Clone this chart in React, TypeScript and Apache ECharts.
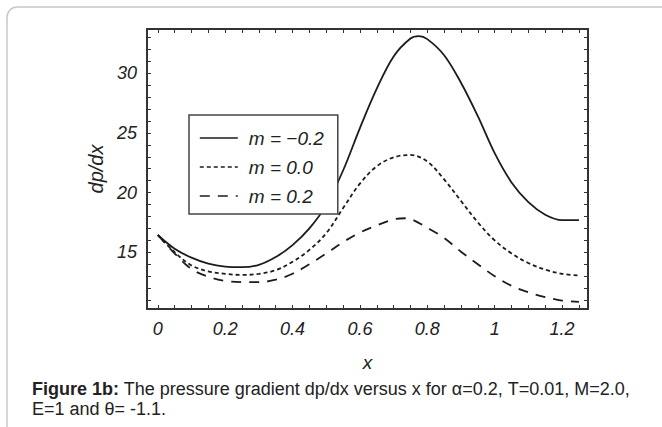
import React, { useEffect, useRef } from "react";
import * as echarts from "echarts";

const xSolid = [0, 0.05, 0.1, 0.15, 0.2, 0.25, 0.3, 0.35, 0.4, 0.45, 0.5, 0.55, 0.6, 0.65, 0.7, 0.75, 0.775, 0.8, 0.85, 0.9, 0.95, 1.0, 1.05, 1.1, 1.15, 1.2, 1.25];
const ySolid = [16.45, 15.3, 14.55, 14.05, 13.8, 13.75, 13.95, 14.6, 15.6, 17.0, 18.95, 21.85, 25.4, 28.7, 31.4, 32.9, 33.1, 32.85, 31.5, 29.2, 26.4, 23.3, 20.85, 19.2, 18.15, 17.7, 17.7];

const xDotted = [0, 0.05, 0.1, 0.15, 0.2, 0.25, 0.3, 0.35, 0.4, 0.45, 0.5, 0.55, 0.6, 0.65, 0.7, 0.75, 0.8, 0.85, 0.9, 0.95, 1.0, 1.05, 1.1, 1.15, 1.2, 1.25];
const yDotted = [16.45, 15.0, 13.9, 13.4, 13.2, 13.1, 13.2, 13.5, 14.2, 15.2, 16.6, 18.7, 20.75, 22.2, 22.95, 23.15, 22.6, 21.1, 19.3, 17.5, 16.0, 14.9, 14.1, 13.55, 13.2, 13.05];

const xDashed = [0, 0.05, 0.1, 0.15, 0.2, 0.25, 0.3, 0.35, 0.4, 0.45, 0.5, 0.55, 0.6, 0.65, 0.7, 0.735, 0.75, 0.8, 0.85, 0.9, 0.95, 1.0, 1.05, 1.1, 1.15, 1.2, 1.25];
const yDashed = [16.45, 14.9, 13.6, 12.95, 12.6, 12.5, 12.5, 12.7, 13.2, 14.0, 14.9, 15.85, 16.65, 17.25, 17.75, 17.85, 17.8, 17.05, 16.2, 15.05, 14.0, 13.0, 12.2, 11.65, 11.25, 10.95, 10.85];

const seriesNames = ["m = \u22120.2", "m = 0.0", "m = 0.2"];

const xLabelValues = [0, 0.2, 0.4, 0.6, 0.8, 1, 1.2];
const xTickValues = [0, 0.05, 0.1, 0.15, 0.2, 0.25, 0.3, 0.35, 0.4, 0.45, 0.5, 0.55, 0.6, 0.65, 0.7, 0.75, 0.8, 0.85, 0.9, 0.95, 1, 1.05, 1.1, 1.15, 1.2, 1.25];
const yLabelValues = [15, 20, 25, 30];
const yTickValues = [11, 12, 13, 14, 15, 16, 17, 18, 19, 20, 21, 22, 23, 24, 25, 26, 27, 28, 29, 30, 31, 32, 33];

const xMin = -0.032;
const xMax = 1.277;
const yMin = 10.25;
const yMax = 33.7;

const captionText =
  "{b|Figure 1b:} The pressure gradient dp/dx versus x for \u03b1=0.2, T=0.01, M=2.0,\nE=1 and \u03b8= -1.1.";

const pairs = (xs: number[], ys: number[]) => xs.map((x, i) => [x, ys[i]]);

export default function App() {
  const ref = useRef<HTMLDivElement>(null);
  useEffect(() => {
    if (!ref.current) return;
    const chart = echarts.init(ref.current, null, { renderer: "svg" });
    const axisColor = "#333";
    const textColor = "#222";
    const font = "'Liberation Sans', Arial, sans-serif";
    const lineColor = "#1c1c1c";
    const common = {
      axisLine: { show: true, onZero: false, lineStyle: { color: axisColor, width: 2 } },
      splitLine: { show: false },
    };
    chart.setOption({
      animation: false,
      backgroundColor: "#fff",
      grid: { left: 147, top: 29, right: 74, bottom: 118, containLabel: false },
      legend: {
        left: 189,
        top: 115,
        orient: "vertical",
        data: seriesNames,
        backgroundColor: "#fff",
        borderColor: "#444",
        borderWidth: 1.5,
        borderRadius: 0,
        padding: [13, 14, 8, 10],
        itemWidth: 38,
        itemHeight: 12,
        itemGap: 9,
        selectedMode: false,
        itemStyle: { opacity: 0 },
        lineStyle: { width: 1.6 },
        textStyle: {
          fontFamily: font,
          fontStyle: "italic",
          fontSize: 19,
          lineHeight: 20,
          color: textColor,
          padding: [0, 0, 0, 6],
        },
      },
      xAxis: [
        {
          type: "value",
          position: "bottom",
          min: xMin,
          max: xMax,
          ...common,
          name: "x",
          nameLocation: "middle",
          nameGap: 44,
          nameTextStyle: { fontFamily: font, fontStyle: "italic", fontSize: 19, color: textColor },
          axisTick: { show: true, inside: true, length: 4, customValues: xTickValues, lineStyle: { color: axisColor, width: 1 } },
          axisLabel: {
            show: true,
            customValues: xLabelValues,
            margin: 11,
            fontFamily: font,
            fontStyle: "italic",
            fontSize: 18,
            color: textColor,
            formatter: (v: number) => String(v),
          },
        },
        {
          type: "value",
          position: "top",
          min: xMin,
          max: xMax,
          ...common,
          axisTick: { show: true, inside: true, length: 4, customValues: xTickValues, lineStyle: { color: axisColor, width: 1 } },
          axisLabel: { show: false },
        },
      ],
      yAxis: [
        {
          type: "value",
          position: "left",
          min: yMin,
          max: yMax,
          ...common,
          name: "dp/dx",
          nameLocation: "middle",
          nameGap: 40,
          nameRotate: 90,
          nameTextStyle: { fontFamily: font, fontStyle: "italic", fontSize: 20, color: textColor },
          axisTick: { show: true, inside: true, length: 4, customValues: yTickValues, lineStyle: { color: axisColor, width: 1 } },
          axisLabel: {
            show: true,
            customValues: yLabelValues,
            margin: 10,
            fontFamily: font,
            fontStyle: "italic",
            fontSize: 18,
            color: textColor,
            formatter: (v: number) => String(v),
          },
        },
        {
          type: "value",
          position: "right",
          min: yMin,
          max: yMax,
          ...common,
          axisTick: { show: true, inside: true, length: 4, customValues: yTickValues, lineStyle: { color: axisColor, width: 1 } },
          axisLabel: { show: false },
        },
      ],
      series: [
        {
          name: seriesNames[0],
          type: "line",
          xAxisIndex: 0,
          yAxisIndex: 0,
          data: pairs(xSolid, ySolid),
          smooth: 0.35,
          symbol: "none",
          showSymbol: false,
          itemStyle: { color: lineColor },
          lineStyle: { color: lineColor, width: 1.8, type: "solid" },
        },
        {
          name: seriesNames[1],
          type: "line",
          xAxisIndex: 0,
          yAxisIndex: 0,
          data: pairs(xDotted, yDotted),
          smooth: 0.35,
          symbol: "none",
          showSymbol: false,
          itemStyle: { color: lineColor },
          lineStyle: { color: lineColor, width: 1.8, type: [4, 3] },
        },
        {
          name: seriesNames[2],
          type: "line",
          xAxisIndex: 0,
          yAxisIndex: 0,
          data: pairs(xDashed, yDashed),
          smooth: 0.35,
          symbol: "none",
          showSymbol: false,
          itemStyle: { color: lineColor },
          lineStyle: { color: lineColor, width: 1.8, type: [10, 8] },
        },
      ],
      graphic: [
        {
          type: "rect",
          shape: { x: 7, y: 7, width: 700, height: 460, r: 10 },
          style: { fill: "none", stroke: "#c8c8c8", lineWidth: 1.5 },
          silent: true,
          z: -10,
        },
        {
          type: "text",
          x: 32,
          y: 379,
          style: {
            text: captionText,
            fontFamily: font,
            fontSize: 18,
            lineHeight: 20,
            fill: textColor,
            rich: {
              b: { fontFamily: font, fontSize: 18, fontWeight: "bold", fill: textColor, lineHeight: 20 },
            },
          },
        },
      ],
    });
    return () => chart.dispose();
  }, []);
  return (
    <div
      ref={ref}
      style={{ position: "fixed", left: 0, top: 0, width: 662, height: 427, background: "#fff" }}
    />
  );
}
